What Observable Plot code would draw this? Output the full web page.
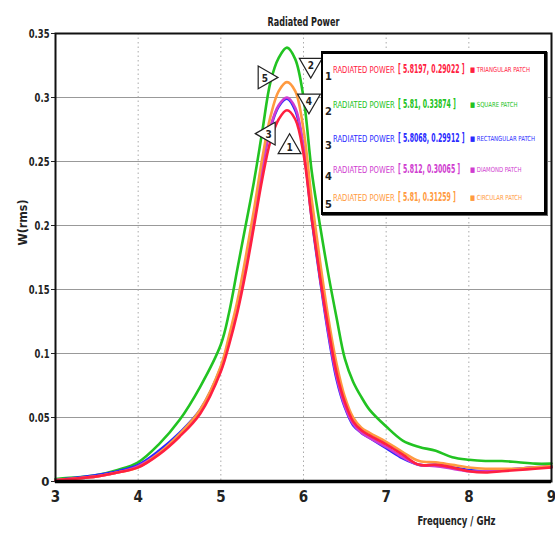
<!DOCTYPE html>
<html><head><meta charset="utf-8">
<script src="https://cdn.jsdelivr.net/npm/d3@7"></script>
<script src="https://cdn.jsdelivr.net/npm/@observablehq/plot@0.6"></script>
<style>
body{margin:0;background:#fff;}
#wrap{position:relative;width:555px;height:535px;overflow:hidden;}
#legend{position:absolute;left:321px;top:51px;width:226px;height:164px;box-sizing:border-box;border:3px solid #000;border-left-width:2px;background:#fff;box-shadow:1px 1px 0 #666;font-family:'DejaVu Sans Condensed','DejaVu Sans',sans-serif;}
.row{position:absolute;left:0;height:20px;width:220px;white-space:nowrap;}
.row span{position:absolute;display:inline-block;transform-origin:0 50%;}
.num{left:2px;font-size:11px;font-weight:bold;color:#222;}
.lab{left:10px;top:5px;font-size:8px;transform:scaleX(0.95);}
.val{left:75px;top:0px;font-size:12.5px;font-weight:bold;transform:scaleX(0.55);}
.name{left:147px;top:5px;font-size:7px;transform:scaleX(0.85);}
</style></head><body><div id="wrap"></div>
<script>
// ---- data ----
const freq = [3, 3.5, 3.75, 4, 4.25, 4.5, 4.75, 5, 5.1, 5.2, 5.3, 5.4, 5.5, 5.6, 5.7, 5.8, 5.9, 6.0, 6.1, 6.2, 6.3, 6.4, 6.5, 6.6, 6.7, 6.8, 7.0, 7.2, 7.4, 7.6, 7.8, 8.0, 8.2, 8.4, 8.6, 8.8, 9.0];
const triangularPatch  = [0.001,0.004,0.007,0.011,0.021,0.035,0.053,0.086,0.107,0.132,0.163,0.199,0.236,0.266,0.283,0.290,0.283,0.256,0.205,0.160,0.120,0.085,0.062,0.047,0.040,0.036,0.029,0.021,0.013,0.013,0.011,0.008,0.007,0.008,0.009,0.010,0.011];
const squarePatch      = [0.002,0.005,0.009,0.015,0.029,0.048,0.074,0.107,0.132,0.166,0.200,0.234,0.273,0.312,0.331,0.339,0.330,0.300,0.242,0.200,0.162,0.128,0.096,0.078,0.066,0.056,0.043,0.032,0.027,0.024,0.019,0.017,0.016,0.016,0.015,0.014,0.014];
const rectangularPatch = [0.001,0.005,0.008,0.013,0.024,0.038,0.056,0.089,0.111,0.137,0.170,0.207,0.245,0.276,0.293,0.299,0.290,0.260,0.205,0.158,0.115,0.080,0.058,0.044,0.038,0.034,0.026,0.018,0.013,0.013,0.011,0.009,0.008,0.009,0.010,0.011,0.012];
const diamondPatch     = [0.001,0.004,0.007,0.012,0.022,0.036,0.054,0.087,0.109,0.135,0.168,0.205,0.244,0.277,0.294,0.300,0.292,0.262,0.208,0.160,0.117,0.082,0.059,0.045,0.038,0.034,0.027,0.019,0.013,0.012,0.010,0.008,0.008,0.009,0.010,0.011,0.011];
const circularPatch    = [0.001,0.004,0.007,0.011,0.022,0.037,0.056,0.090,0.114,0.141,0.175,0.212,0.252,0.285,0.305,0.312,0.305,0.275,0.220,0.172,0.128,0.092,0.066,0.050,0.042,0.038,0.031,0.023,0.016,0.015,0.013,0.011,0.010,0.010,0.010,0.011,0.012];

const seriesNames  = ["TRIANGULAR PATCH", "SQUARE PATCH", "RECTANGULAR PATCH", "DIAMOND PATCH", "CIRCULAR PATCH"];
const seriesColors = ["#ff2040", "#22c322", "#2a2aff", "#d03cd0", "#ff9a40"];
const peakFreq   = [5.8197, 5.81, 5.8068, 5.812, 5.81];
const peakPower  = [0.29022, 0.33874, 0.29912, 0.30065, 0.31259];
const peakLabels = ["5.8197, 0.29022", "5.81, 0.33874", "5.8068, 0.29912", "5.812, 0.30065", "5.81, 0.31259"];
const xTicks = [3, 4, 5, 6, 7, 8, 9];
const yTicks = [0, 0.05, 0.1, 0.15, 0.2, 0.25, 0.3, 0.35];
const titleText = "Radiated Power";
const xLabel = "Frequency / GHz";
const yLabel = "W(rms)";

// ---- build table ----
const seriesValues = [triangularPatch, squarePatch, rectangularPatch, diamondPatch, circularPatch];
const drawOrder = [1, 2, 3, 4, 0];
const rows = [];
for (const s of drawOrder) freq.forEach((f, i) => rows.push({f, w: seriesValues[s][i], series: seriesNames[s]}));
const peaks = seriesNames.map((n, i) => ({id: i + 1, f: peakFreq[i], w: peakPower[i], series: n}));

const FONT = "'DejaVu Sans Condensed','DejaVu Sans',sans-serif";
// marker placement relative to its peak: [dx, dy, rotate]
const markerCfg = [[1, 37, 0], [23, 17, 180], [-19, 35, -90], [21, 4, 180], [-23, -4, 90]];
const markerMarks = [];
peaks.forEach((p, i) => {
  const [dx, dy, rot] = markerCfg[i];
  markerMarks.push(Plot.dot([p], {x: "f", y: "w", dx, dy, rotate: rot, symbol: "triangle", r: 8.5, fill: "white", stroke: "#222", strokeWidth: 1.2}));
  markerMarks.push(Plot.text([p], {x: "f", y: "w", text: d => String(d.id), dx, dy: dy + 1, fontSize: 10, fill: "#222"}));
});

const chart = Plot.plot({
  width: 555, height: 535,
  marginLeft: 55, marginRight: 4, marginTop: 33, marginBottom: 54,
  style: {fontFamily: FONT, fontSize: "13px", fontWeight: "bold", background: "white", color: "#222"},
  x: {domain: [3, 9]},
  y: {domain: [0, 0.35]},
  color: {domain: seriesNames, range: seriesColors},
  marks: [
    Plot.gridY(yTicks, {stroke: "#999", strokeOpacity: 1, strokeWidth: 1}),
    Plot.gridX(xTicks, {stroke: "#aaa", strokeOpacity: 1, strokeDasharray: "1.5,3"}),
    Plot.axisX(xTicks, {tickSize: 0, tickPadding: 10, fontSize: 15, label: null}),
    Plot.axisY(yTicks, {tickSize: 4, tickPadding: 2, fontSize: 13, tickFormat: d3.format("~g"), label: null}),
    Plot.line(rows, {x: "f", y: "w", z: "series", stroke: "series", curve: "catmull-rom", strokeWidth: 2.6}),
    Plot.frame({stroke: "#111", strokeWidth: 2}),
    Plot.ruleY([0], {stroke: "#000", strokeWidth: 3.5}),
    Plot.text([titleText], {frameAnchor: "top", dy: -16, fontSize: 12, fontWeight: "bold", fill: "#222"}),
    Plot.text([xLabel], {frameAnchor: "bottom-right", dx: -56, dy: 43, textAnchor: "end", fontSize: 13, fontWeight: "bold", fill: "#222"}),
    Plot.text([yLabel], {frameAnchor: "left", dx: -33, dy: -12, rotate: -90, fontSize: 13, fontWeight: "bold", fill: "#222"}),
    ...markerMarks
  ]
});
const wrap = document.getElementById("wrap");
wrap.appendChild(chart);

// condense text widths to match the narrow lettering of the original
const squeeze = {[titleText]: 72, [xLabel]: 78, [yLabel]: 46};
chart.querySelectorAll("text").forEach(t => {
  const s = t.textContent;
  if (squeeze[s]) { t.setAttribute("textLength", squeeze[s]); t.setAttribute("lengthAdjust", "spacingAndGlyphs"); }
  else if (/^0\.\d+$/.test(s)) { t.setAttribute("textLength", (t.getComputedTextLength() * 0.72).toFixed(1)); t.setAttribute("lengthAdjust", "spacingAndGlyphs"); }
});

// ---- legend (overlay box) ----
const legend = document.createElement("div");
legend.id = "legend";
const rowTops = [7, 42, 76, 107, 135];
seriesNames.forEach((n, i) => {
  const r = document.createElement("div");
  r.className = "row";
  r.style.top = rowTops[i] + "px";
  r.innerHTML = `<span class="num" style="top:9px">${i + 1}</span>` +
    `<span class="lab" style="color:${seriesColors[i]}">RADIATED POWER</span>` +
    `<span class="val" style="color:${seriesColors[i]}">[ ${peakLabels[i]} ]</span>` +
    `<span class="name" style="color:${seriesColors[i]}">&#9632; ${n}</span>`;
  legend.appendChild(r);
});
wrap.appendChild(legend);
</script></body></html>
